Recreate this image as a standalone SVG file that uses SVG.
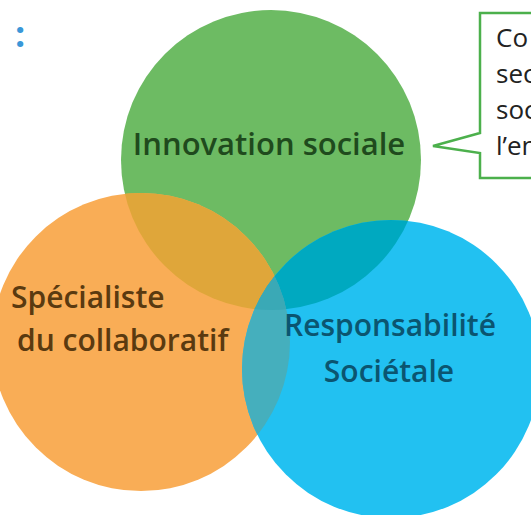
<svg xmlns="http://www.w3.org/2000/svg" width="531" height="515" viewBox="0 0 531 515">
<defs>
<clipPath id="cG"><circle cx="271" cy="160" r="150"/></clipPath>
<clipPath id="cO"><circle cx="141" cy="342" r="149"/></clipPath>
<clipPath id="cB"><circle cx="391" cy="369" r="149"/></clipPath>
</defs>
<style>
.lbl{font-family:"Open Sans","Noto Sans",sans-serif;font-weight:600;}
.call{font-family:"Open Sans","Noto Sans",sans-serif;font-size:26px;fill:#222;}
</style>
<rect width="531" height="515" fill="#ffffff"/>
<text x="15" y="47" font-family="Open Sans,sans-serif" font-weight="700" font-size="36" fill="#3a97d8">:</text>
<g id="circles">
<g id="green"><circle cx="271" cy="160" r="150" fill="#6dbb63"/></g>
<g id="orange"><circle cx="141" cy="342" r="149" fill="#f9ad56"/></g>
<g id="blue"><circle cx="391" cy="369" r="149" fill="#22c1f1"/></g>
<g clip-path="url(#cG)"><circle cx="141" cy="342" r="149" fill="#dfa63a"/></g>
<g clip-path="url(#cG)"><circle cx="391" cy="369" r="149" fill="#00a9c0"/></g>
<g clip-path="url(#cO)"><circle cx="391" cy="369" r="149" fill="#45afbd"/></g>
<g clip-path="url(#cO)"><g clip-path="url(#cB)"><circle cx="271" cy="160" r="150" fill="#3aa9b6"/></g></g>
</g>
<g id="labels">
<text class="lbl" x="269" y="155" font-size="31" fill="#1f4a1d" text-anchor="middle">Innovation sociale</text>
<text class="lbl" x="11" y="308" font-size="30" fill="#5a3a10">Spécialiste</text>
<text class="lbl" x="17" y="351" font-size="30" fill="#5a3a10">du collaboratif</text>
<text class="lbl" x="390" y="336" font-size="30" fill="#0b5570" text-anchor="middle">Responsabilité</text>
<text class="lbl" x="389" y="382" font-size="30" fill="#0b5570" text-anchor="middle">Sociétale</text>
</g>
<g id="callout">
<path d="M480,133 L480,13 L540,13 L540,178 L480,178 L480,153 L433,146 Z" fill="#ffffff" stroke="#4cb04c" stroke-width="2.5"/>
<text class="call" x="496" y="47">Co</text>
<text class="call" x="496" y="83">sec</text>
<text class="call" x="496" y="119">soc</text>
<text class="call" x="496" y="155">l’en</text>
</g>
</svg>
